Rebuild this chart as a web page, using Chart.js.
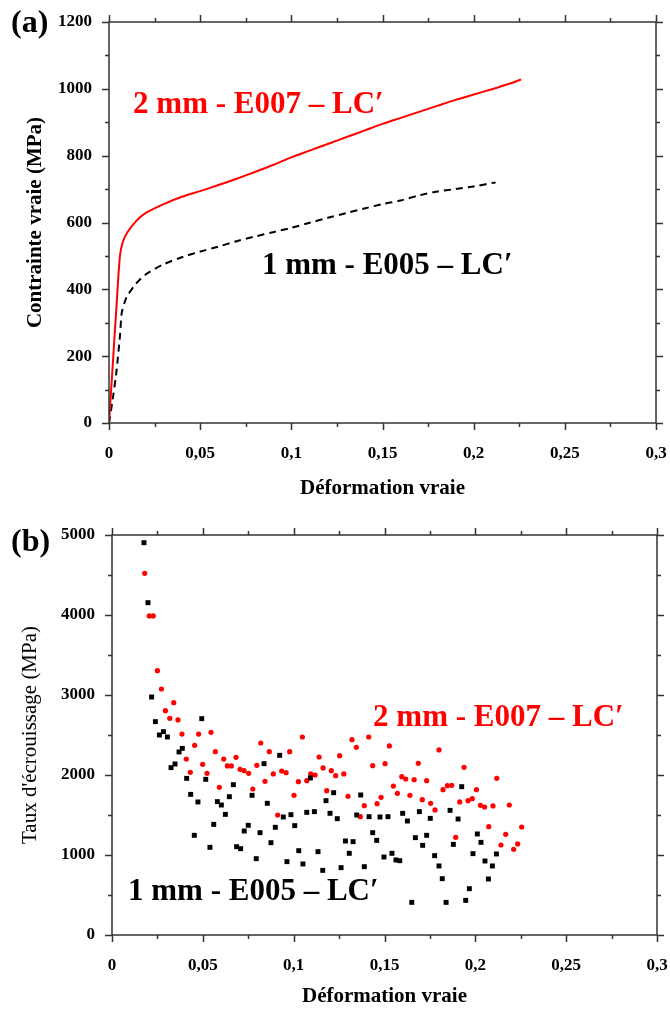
<!DOCTYPE html>
<html>
<head>
<meta charset="utf-8">
<script src="https://cdn.jsdelivr.net/npm/chart.js@4/dist/chart.umd.min.js"></script>
<style>
  html, body { margin: 0; padding: 0; background: #fff; }
  #wrap { position: relative; width: 670px; height: 1009px; }
  #wrap canvas { position: absolute; left: 0; }
  #chartA { top: 0; }
  #chartB { top: 505px; }
</style>
</head>
<body>
<div id="wrap">
  <canvas id="chartA" width="670" height="505"></canvas>
  <canvas id="chartB" width="670" height="504"></canvas>
</div>
<script>
// (a) true stress / true strain curves
const strain2mm = [0, 0.002, 0.004, 0.006, 0.0075, 0.01, 0.015, 0.02, 0.03, 0.04, 0.05, 0.06, 0.07, 0.08, 0.09, 0.1, 0.11, 0.12, 0.13, 0.14, 0.15, 0.16, 0.17, 0.18, 0.19, 0.2, 0.21, 0.22, 0.226];
const stress2mm = [0, 170, 340, 500, 540, 570, 605, 628, 655, 677, 694, 712, 731, 751, 772, 795, 815, 835, 855, 875, 895, 913, 931, 949, 967, 983, 999, 1016, 1028];

const strain1mm = [0, 0.002, 0.004, 0.006, 0.007, 0.0085, 0.01, 0.015, 0.02, 0.03, 0.04, 0.05, 0.06, 0.07, 0.08, 0.09, 0.1, 0.11, 0.12, 0.13, 0.14, 0.15, 0.16, 0.17, 0.18, 0.19, 0.2, 0.212];
const stress1mm = [0, 70, 150, 260, 330, 360, 380, 418, 444, 475, 496, 513, 528, 544, 558, 571, 584, 599, 614, 628, 642, 655, 666, 681, 693, 700, 708, 720];

// (b) work hardening rate
const hardStrain1mm = [0.0176, 0.0198, 0.0218, 0.0239, 0.0261, 0.0283, 0.0305, 0.0325, 0.0347, 0.0369, 0.0387, 0.0411, 0.0433, 0.0453, 0.0473, 0.0494, 0.0516, 0.0539, 0.056, 0.058, 0.0602, 0.0624, 0.0646, 0.0668, 0.0686, 0.0708, 0.0728, 0.075, 0.0771, 0.0794, 0.0815, 0.0837, 0.0855, 0.0875, 0.0899, 0.0923, 0.0943, 0.0963, 0.0985, 0.1006, 0.1028, 0.1051, 0.1072, 0.1092, 0.1114, 0.1134, 0.116, 0.1178, 0.12, 0.122, 0.124, 0.1261, 0.1285, 0.1306, 0.1327, 0.1347, 0.1369, 0.1389, 0.1415, 0.1435, 0.1457, 0.1475, 0.1497, 0.1519, 0.1541, 0.1563, 0.1584, 0.16, 0.1626, 0.165, 0.167, 0.1692, 0.171, 0.1732, 0.1752, 0.1776, 0.18, 0.1818, 0.1839, 0.1861, 0.1879, 0.1905, 0.1925, 0.1947, 0.1967, 0.1987, 0.2011, 0.2031, 0.2053, 0.2072, 0.2094, 0.2116];
const hardRate1mm = [4904, 4154, 2975, 2667, 2500, 2542, 2475, 2092, 2138, 2288, 2333, 1958, 1758, 1246, 1663, 2704, 1946, 1096, 1383, 1667, 1625, 1508, 1729, 1879, 1104, 1079, 1300, 1371, 1746, 954, 1279, 2142, 1646, 1154, 1346, 2246, 1475, 917, 1504, 1367, 1054, 888, 1533, 1963, 1542, 1042, 808, 1679, 1521, 1779, 1454, 842, 1175, 1021, 1167, 1500, 1750, 854, 1479, 1279, 1183, 1475, 975, 1479, 1021, 938, 929, 1521, 1425, 408, 1217, 1542, 1121, 1246, 1458, 992, 863, 704, 408, 1558, 1133, 1450, 1854, 433, 579, 1017, 1263, 1158, 925, 700, 863, 1013];

const hardStrain2mm = [0.018, 0.0205, 0.0227, 0.025, 0.0272, 0.0294, 0.0318, 0.034, 0.0363, 0.0385, 0.0409, 0.0431, 0.0455, 0.0477, 0.0499, 0.0523, 0.0545, 0.0569, 0.0591, 0.0615, 0.0635, 0.0657, 0.0683, 0.0705, 0.0727, 0.0752, 0.0775, 0.0797, 0.0819, 0.0842, 0.0866, 0.0888, 0.0912, 0.0934, 0.0958, 0.0978, 0.1002, 0.1026, 0.1048, 0.1072, 0.1094, 0.1118, 0.114, 0.1162, 0.1182, 0.1207, 0.1231, 0.1253, 0.1276, 0.1299, 0.1321, 0.1345, 0.1367, 0.1389, 0.1413, 0.1435, 0.1459, 0.1481, 0.1503, 0.1527, 0.1549, 0.1571, 0.1595, 0.1617, 0.164, 0.1663, 0.1686, 0.1708, 0.1732, 0.1754, 0.1778, 0.18, 0.1822, 0.1846, 0.187, 0.1892, 0.1914, 0.1938, 0.196, 0.1983, 0.2006, 0.2028, 0.2051, 0.2074, 0.2097, 0.2118, 0.2141, 0.2167, 0.2187, 0.2211, 0.2233, 0.2255];
const hardRate2mm = [4521, 3988, 3988, 3304, 3075, 2804, 2708, 2904, 2688, 2512, 2200, 2033, 2371, 2512, 2133, 2021, 2533, 2292, 1846, 2200, 2113, 2113, 2221, 2071, 2054, 2021, 1825, 2121, 2400, 1921, 2292, 2013, 1500, 2050, 2029, 2292, 1746, 1917, 2475, 1929, 2013, 2000, 2225, 2088, 1804, 2054, 1992, 2242, 2013, 1733, 2442, 2346, 1479, 1617, 2475, 2117, 1642, 1721, 2142, 2363, 1862, 1771, 1979, 1950, 1746, 1942, 2146, 1692, 1929, 1646, 1563, 2313, 1817, 1867, 1871, 1221, 1663, 2096, 1679, 1704, 1817, 1621, 1600, 1354, 1613, 1958, 1125, 1258, 1625, 1071, 1138, 1350];

const RED = '#ff0000';
const BLACK = '#000000';
const AXIS = '#333333';
const SERIF = '"Liberation Serif", "DejaVu Serif", serif';

const toXY = (xs, ys) => xs.map((v, i) => ({x: v, y: ys[i]}));
const frDecimal = v => String(+v.toFixed(3)).replace('.', ',');
const plain = v => String(v);

// box around the plot + major/minor ticks on all 4 sides
const frame = {
  id: 'frame',
  afterDraw(chart, args, opts) {
    const {ctx, chartArea: a, scales: {x, y}} = chart;
    ctx.save();
    ctx.strokeStyle = AXIS;
    ctx.lineWidth = 1.5;
    ctx.strokeRect(a.left, a.top, a.right - a.left, a.bottom - a.top);
    ctx.beginPath();
    let i = 0;
    for (let v = x.min; v <= x.max + 1e-9; v += opts.xStep / 2, i++) {
      const px = Math.round(x.getPixelForValue(v)) + 0.5;
      const len = i % 2 ? 4 : 7;
      ctx.moveTo(px, a.bottom); ctx.lineTo(px, a.bottom + len);
      ctx.moveTo(px, a.top); ctx.lineTo(px, a.top - len);
    }
    i = 0;
    for (let v = y.min; v <= y.max + 1e-9; v += opts.yStep / 2, i++) {
      const py = Math.round(y.getPixelForValue(v)) + 0.5;
      const len = i % 2 ? 4 : 7;
      ctx.moveTo(a.left, py); ctx.lineTo(a.left - len, py);
      ctx.moveTo(a.right, py); ctx.lineTo(a.right + len, py);
    }
    ctx.stroke();
    ctx.restore();
  }
};

// free text: panel letter + curve labels (placed with the chart scales)
const notes = {
  id: 'notes',
  afterDraw(chart, args, opts) {
    const {ctx, scales: {x, y}} = chart;
    ctx.save();
    ctx.textBaseline = 'middle';
    ctx.fillStyle = BLACK;
    ctx.font = 'bold 32px ' + SERIF;
    ctx.fillText(opts.panel, 11, opts.panelY);
    ctx.font = 'bold 31px ' + SERIF;
    opts.labels.forEach(l => {
      ctx.fillStyle = l.color;
      ctx.fillText(l.text, x.getPixelForValue(l.x), y.getPixelForValue(l.y));
    });
    ctx.restore();
  }
};

function axes(xStep, yMax, yStep, yTitle, yTitleWeight, yTitlePad, xHeight, yWidth, xTickPad, xTitlePad) {
  return {
    x: {
      type: 'linear', min: 0, max: 0.3,
      grid: {display: false, drawTicks: false}, border: {display: false},
      ticks: {stepSize: xStep, padding: xTickPad, color: BLACK,
        font: {family: SERIF, size: 17, weight: 'bold'}, callback: frDecimal},
      title: {display: true, text: 'Déformation vraie', color: BLACK,
        font: {family: SERIF, size: 21, weight: 'bold'}, padding: {top: 0, bottom: xTitlePad}},
      afterFit(s) { s.height = xHeight; s.paddingLeft = 0; s.paddingRight = 0; }
    },
    y: {
      type: 'linear', min: 0, max: yMax,
      grid: {display: false, drawTicks: false}, border: {display: false},
      ticks: {stepSize: yStep, padding: 17, color: BLACK,
        font: {family: SERIF, size: 17, weight: 'bold'}, callback: plain},
      title: {display: true, text: yTitle, color: BLACK,
        font: {family: SERIF, size: 21, weight: yTitleWeight}, padding: {top: yTitlePad, bottom: 0}},
      afterFit(s) { s.width = yWidth; s.paddingTop = 0; s.paddingBottom = 0; }
    }
  };
}

new Chart(document.getElementById('chartA'), {
  type: 'scatter',
  data: {
    datasets: [
      {label: '2 mm - E007 – LC′', data: toXY(strain2mm, stress2mm), showLine: true,
        borderColor: RED, borderWidth: 2, pointRadius: 0, tension: 0.3},
      {label: '1 mm - E005 – LC′', data: toXY(strain1mm, stress1mm), showLine: true,
        borderColor: BLACK, borderWidth: 2, borderDash: [7, 5], pointRadius: 0, tension: 0.3}
    ]
  },
  options: {
    responsive: false, animation: false, devicePixelRatio: 1,
    layout: {padding: {top: 22, right: 14, left: 0, bottom: 0}},
    plugins: {
      legend: {display: false}, tooltip: {enabled: false},
      frame: {xStep: 0.05, yStep: 200},
      notes: {panel: '(a)', panelY: 24, labels: [
        {text: '2 mm - E007 – LC′', x: 0.0132, y: 952, color: RED},
        {text: '1 mm - E005 – LC′', x: 0.0839, y: 470, color: BLACK}
      ]}
    },
    scales: axes(0.05, 1200, 200, 'Contrainte vraie (MPa)', 'bold', 23, 82, 109, 20, 4)
  },
  plugins: [frame, notes]
});

new Chart(document.getElementById('chartB'), {
  type: 'scatter',
  data: {
    datasets: [
      {label: '1 mm - E005 – LC′', data: toXY(hardStrain1mm, hardRate1mm),
        pointStyle: 'rect', pointRadius: 3.5, borderWidth: 0, backgroundColor: BLACK},
      {label: '2 mm - E007 – LC′', data: toXY(hardStrain2mm, hardRate2mm),
        pointStyle: 'circle', pointRadius: 2.6, borderWidth: 0, backgroundColor: RED}
    ]
  },
  options: {
    responsive: false, animation: false, devicePixelRatio: 1,
    layout: {padding: {top: 30, right: 13, left: 0, bottom: 0}},
    plugins: {
      legend: {display: false}, tooltip: {enabled: false},
      frame: {xStep: 0.05, yStep: 1000},
      notes: {panel: '(b)', panelY: 38, labels: [
        {text: '2 mm - E007 – LC′', x: 0.1437, y: 2712, color: RED},
        {text: '1 mm - E005 – LC′', x: 0.0088, y: 537, color: BLACK}
      ]}
    },
    scales: axes(0.05, 5000, 1000, "Taux d'écrouissage (MPa)", 'normal', 18, 74, 112, 20, 0)
  },
  plugins: [frame, notes]
});
</script>
</body>
</html>
